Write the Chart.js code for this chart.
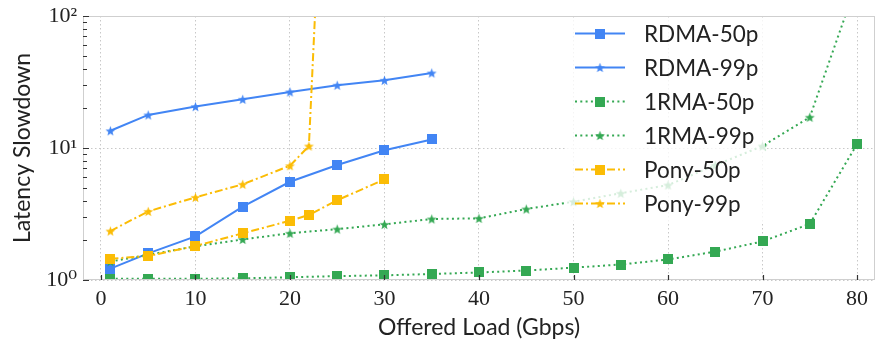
<!DOCTYPE html>
<html><head><meta charset="utf-8">
<script src="https://cdn.jsdelivr.net/npm/chart.js@4.4.1/dist/chart.umd.min.js"></script>
<style>html,body{margin:0;padding:0;background:#fff}canvas{display:block}</style>
</head><body>
<canvas id="c" width="883" height="345" style="width:883px;height:345px"></canvas>
<script>
// ---------------- data ----------------
const rdmaLoads = [1, 5, 10, 15, 20, 25, 30, 35];
const rdma50p   = [1.22, 1.59, 2.14, 3.59, 5.55, 7.43, 9.6, 11.6];
const rdma99p   = [13.5, 17.8, 20.6, 23.4, 26.6, 29.9, 32.6, 37.0];

const onermaLoads = [1, 5, 10, 15, 20, 25, 30, 35, 40, 45, 50, 55, 60, 65, 70, 75, 80];
const onerma50p   = [1.02, 1.02, 1.02, 1.03, 1.05, 1.07, 1.085, 1.11, 1.14, 1.18, 1.24, 1.31, 1.43, 1.64, 1.96, 2.66, 10.7];
const onerma99p   = [1.38, 1.55, 1.80, 2.03, 2.26, 2.43, 2.64, 2.90, 2.93, 3.45, 3.92, 4.54, 5.24, 7.4, 10.35, 17.1, 180];

const pony50Loads = [1, 5, 10, 15, 20, 22, 25, 30];
const pony50p     = [1.45, 1.52, 1.81, 2.26, 2.81, 3.11, 4.02, 5.79];
const pony99Loads = [1, 5, 10, 15, 20, 22, 23];
const pony99p     = [2.35, 3.31, 4.23, 5.31, 7.34, 10.35, 350];

const seriesLabels = ['RDMA-50p', 'RDMA-99p', '1RMA-50p', '1RMA-99p', 'Pony-50p', 'Pony-99p'];
const xTickValues = [0, 10, 20, 30, 40, 50, 60, 70, 80];
const yDecades = [1, 10, 100];
const yTickLabels = ['10\u2070', '10\u00B9', '10\u00B2'];
const xTitle = 'Offered Load (Gbps)';
const yTitle = 'Latency Slowdown';

// ---------------- styles ----------------
const BLUE = '#4285F4', GREEN = '#34A853', YELLOW = '#FBBC05';
const SOLID = [], DOTTED = [2, 3.3], DASHDOT = [8, 3, 2, 3];
const SANS = 'Lato, "Open Sans", sans-serif';
const SERIF = '"Liberation Serif", "DejaVu Serif", serif';

function makeSquare(color, side) {
  const c = document.createElement('canvas');
  c.width = side; c.height = side;
  const g = c.getContext('2d');
  g.fillStyle = color; g.fillRect(0, 0, side, side);
  return c;
}
function makeStar(color, R) {
  const s = Math.ceil(2 * R + 2);
  const c = document.createElement('canvas');
  c.width = s; c.height = s;
  const g = c.getContext('2d');
  const cx = s / 2, cy = s / 2 + R * 0.1, r = R * 0.42;
  g.beginPath();
  for (let i = 0; i < 10; i++) {
    const rad = i % 2 === 0 ? R : r;
    const a = -Math.PI / 2 + i * Math.PI / 5;
    const px = cx + rad * Math.cos(a), py = cy + rad * Math.sin(a);
    i === 0 ? g.moveTo(px, py) : g.lineTo(px, py);
  }
  g.closePath();
  g.fillStyle = color; g.fill();
  return c;
}
const SQ = 10, STR = 5.2;

function pts(xs, ys) { return xs.map((x, i) => ({ x: x, y: ys[i] })); }

const specs = [
  [rdmaLoads, rdma50p, BLUE, SOLID, makeSquare(BLUE, SQ)],
  [rdmaLoads, rdma99p, BLUE, SOLID, makeStar(BLUE, STR)],
  [onermaLoads, onerma50p, GREEN, DOTTED, makeSquare(GREEN, SQ)],
  [onermaLoads, onerma99p, GREEN, DOTTED, makeStar(GREEN, STR)],
  [pony50Loads, pony50p, YELLOW, DASHDOT, makeSquare(YELLOW, SQ)],
  [pony99Loads, pony99p, YELLOW, DASHDOT, makeStar(YELLOW, STR)],
];

const datasets = specs.map((s, i) => ({
  label: seriesLabels[i],
  data: pts(s[0], s[1]),
  borderColor: s[2],
  backgroundColor: s[2],
  borderWidth: 2,
  borderDash: s[3],
  pointStyle: s[4],
  pointRadius: 6,
  pointHoverRadius: 6,
  tension: 0,
  clip: 0,
  order: specs.length - i,
}));

// ---------------- plugins ----------------
const framePlugin = {
  id: 'frame',
  afterDatasetsDraw(chart) {
    const ctx = chart.ctx, a = chart.chartArea;
    const xs = chart.scales.x, ys = chart.scales.y;
    ctx.save();
    // spines
    ctx.strokeStyle = '#cfcfcf';
    ctx.lineWidth = 1;
    ctx.setLineDash([]);
    ctx.strokeRect(a.left + 0.5, a.top + 0.5, a.right - a.left - 1, a.bottom - a.top - 1);
    // inward ticks
    ctx.strokeStyle = '#333';
    ctx.lineWidth = 1.2;
    ctx.beginPath();
    xs.ticks.forEach(t => {
      const px = Math.round(xs.getPixelForValue(t.value)) + 0.5;
      ctx.moveTo(px, a.bottom); ctx.lineTo(px, a.bottom - 5);
    });
    ys.ticks.forEach(t => {
      const py = Math.round(ys.getPixelForValue(t.value)) + 0.5;
      const major = yDecades.includes(t.value);
      ctx.moveTo(a.left, py); ctx.lineTo(a.left + (major ? 6 : 4), py);
    });
    ctx.stroke();

    // legend
    const sx = a.right - 300, lineW = 50, textX = a.right - 231;
    const rowTop = a.top + 17.5, rowH = 34;
    ctx.fillStyle = 'rgba(255,255,255,0.8)';
    ctx.fillRect(a.right - 310, a.top + 2, 200, 6 * rowH + 2);
    chart.data.datasets.forEach((ds, i) => {
      const y = rowTop + i * rowH;
      ctx.strokeStyle = ds.borderColor;
      ctx.lineWidth = ds.borderWidth;
      ctx.setLineDash(ds.borderDash);
      ctx.beginPath(); ctx.moveTo(sx, y); ctx.lineTo(sx + lineW, y); ctx.stroke();
      ctx.setLineDash([]);
      const img = ds.pointStyle;
      ctx.drawImage(img, sx + lineW / 2 - img.width / 2, y - img.height / 2);
      ctx.fillStyle = '#222';
      ctx.font = '22.5px ' + SANS;
      ctx.textBaseline = 'middle';
      ctx.textAlign = 'left';
      ctx.fillText(ds.label, textX, y + 1);
    });
    ctx.restore();
  }
};

new Chart(document.getElementById('c'), {
  type: 'line',
  data: { datasets: datasets },
  plugins: [framePlugin],
  options: {
    responsive: false,
    animation: false,
    events: [],
    layout: { padding: { left: 0, right: 4, top: 16, bottom: 0 } },
    plugins: { legend: { display: false }, tooltip: { enabled: false } },
    scales: {
      x: {
        type: 'linear',
        min: -1.9, max: 81.9,
        afterBuildTicks: s => { s.ticks = xTickValues.map(v => ({ value: v })); },
        afterFit: s => { s.height = 65; s.paddingLeft = 0; s.paddingRight = 0; },
        ticks: { font: { family: SERIF, size: 22 }, color: '#222', padding: 6, maxRotation: 0, autoSkip: false },
        grid: { color: '#c8c8c8', lineWidth: 1, drawTicks: false, borderDash: [1.5, 2.5] },
        border: { display: false, dash: [1.5, 2.5] },
        title: { display: true, text: xTitle, font: { family: SANS, size: 23 }, color: '#222', padding: { top: 0, bottom: 4 } }
      },
      y: {
        type: 'logarithmic',
        min: 1, max: 100,
        afterBuildTicks: s => {
          const t = [];
          for (let d = 0; d < yDecades.length - 1; d++)
            for (let m = 1; m < 10; m++) t.push({ value: yDecades[d] * m, major: m === 1 });
          t.push({ value: yDecades[yDecades.length - 1], major: true });
          s.ticks = t;
        },
        afterFit: s => { s.width = 83; s.paddingTop = 0; s.paddingBottom = 0; },
        ticks: {
          font: { family: SERIF, size: 22 }, color: '#222', padding: 6, autoSkip: false,
          callback: v => { const k = yDecades.indexOf(v); return k >= 0 ? yTickLabels[k] : ''; }
        },
        grid: {
          color: c => (c.tick && yDecades.includes(c.tick.value)) ? '#c8c8c8' : 'rgba(0,0,0,0)',
          lineWidth: 1, drawTicks: false, borderDash: [1.5, 2.5]
        },
        border: { display: false, dash: [1.5, 2.5] },
        title: { display: true, text: yTitle, font: { family: SANS, size: 23 }, color: '#222', padding: { top: 9, bottom: 0 } }
      }
    }
  }
});
</script>
</body></html>
